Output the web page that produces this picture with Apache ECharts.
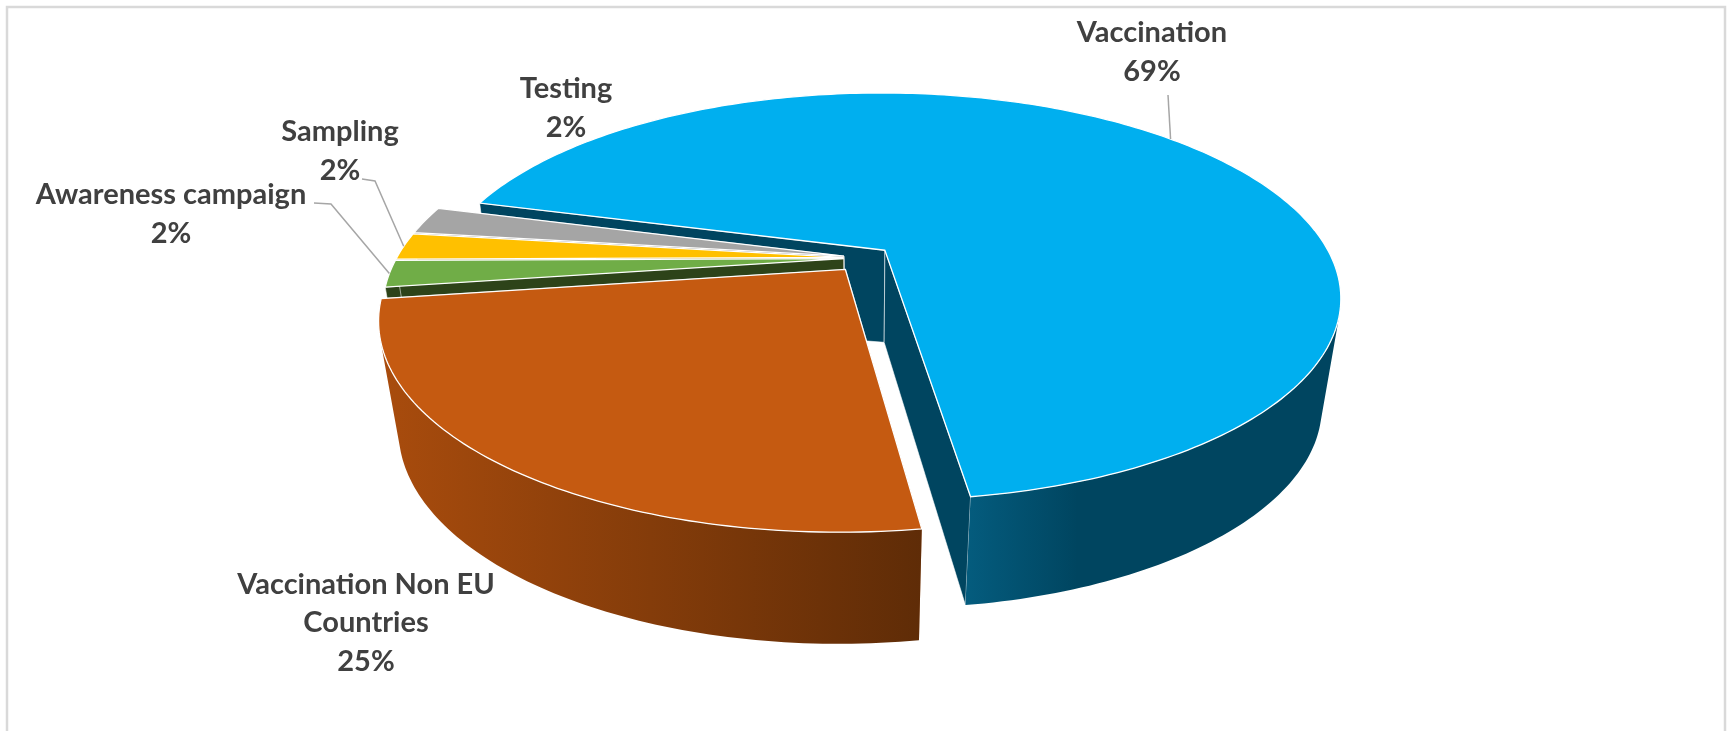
<!DOCTYPE html>
<html>
<head>
<meta charset="utf-8">
<style>
  html, body { margin: 0; padding: 0; background: #fff; }
  #main { width: 1729px; height: 731px; }
</style>
<script src="https://cdn.jsdelivr.net/npm/echarts@6/dist/echarts.min.js"></script>
</head>
<body>
<div id="main"></div>
<script>
  // clockwise from the upper left edge of the big slice
  var categories = ['Vaccination', 'Vaccination Non EU\nCountries', 'Awareness campaign', 'Sampling', 'Testing']
  var values = [68.6, 25, 2.1, 2.1, 2.2]
  var topColors = ['#00AFEF', '#C55A11', '#70AD47', '#FFC000', '#A5A5A5']
  var wallColors = [['#045C7E', '#004560'], ['#A94C0D', '#5F2C07'], ['#2D4319', '#2D4319'], ['#997300', '#997300'], ['#636363', '#636363']]
  var cutColors = ['#004560', '#A94C0D', '#2D4319', '#997300', '#636363']
  var wallGradientEnd = [0.3, 1, 1, 1, 1]
  // how far each slice is pulled out
  var explodes = [0.06, 0.072, 0.048, 0.048, 0.048]
  // where the text sits, leader elbow points if any
  var labelPos = [[1152, 52], [366, 623], [171, 214], [340, 151], [566, 108]]
  var leaders = [[[1168, 95]], null, [[314, 203], [331, 204]], [[362, 179], [375, 181]], null]
  // back to front
  var paintOrder = [0, 4, 3, 2, 1]

  // projection of the tilted pie
  var cx = 865, cy = 258, scaleX = 447, scaleY = 196.5, persp = 0.229
  var depthY = 92, depthRim = 0.19, depthPersp = 0.04
  var startAngle = 195
  // part of the rim that faces the viewer, angles keep counting past 360
  var wallFrom = 378, wallTo = 522

  var total = values.reduce(function (a, b) { return a + b }, 0)
  var rad = Math.PI / 180
  var slices = []
  var acc = startAngle
  values.forEach(function (v, i) {
    var span = v / total * 360
    slices.push({start: acc, end: acc + span, mid: acc + span / 2, explode: explodes[i]})
    acc += span
  })

  function project(X, Y, h) {
    var w = 1 - persp * Y
    var depth = depthY * (1 + depthRim * (X * X + Y * Y)) * h
    return [cx + scaleX * X / (w + depthPersp * h), cy + scaleY * Y / w + depth]
  }
  function apex(s, h) {
    return project(s.explode * Math.cos(s.mid * rad), s.explode * Math.sin(s.mid * rad), h)
  }
  function rim(s, t, h) {
    return project(s.explode * Math.cos(s.mid * rad) + Math.cos(t * rad),
      s.explode * Math.sin(s.mid * rad) + Math.sin(t * rad), h)
  }
  function arc(s, from, to, h) {
    var pts = []
    var n = Math.max(2, Math.ceil(to - from))
    for (var i = 0; i <= n; i++) {
      pts.push(rim(s, from + (to - from) * i / n, h))
    }
    return pts
  }

  function renderSlice(params, api) {
    var i = api.value(0)
    var s = slices[i]
    var children = []
    var rank = paintOrder.indexOf(i) * 10

    // the two cut faces
    ;[s.start, s.end].forEach(function (t) {
      children.push({
        type: 'polygon',
        z2: rank,
        shape: {points: [apex(s, 0), rim(s, t, 0), rim(s, t, 1), apex(s, 1)]},
        style: {fill: cutColors[i], stroke: 'rgba(255,255,255,0.55)', lineWidth: 1}
      })
    })

    // outer wall
    var from = Math.max(s.start, wallFrom)
    var to = Math.min(s.end, wallTo)
    if (from < to) {
      var upper = arc(s, from, to, 0)
      var lower = arc(s, from, to, 1).reverse()
      children.push({
        type: 'polygon',
        z2: rank + 1,
        shape: {points: upper.concat(lower)},
        style: {
          fill: new echarts.graphic.LinearGradient(0, 0, wallGradientEnd[i], 0, [
            {offset: 0, color: wallColors[i][0]},
            {offset: 1, color: wallColors[i][1]}
          ]),
          stroke: null
        }
      })
    }

    // top face
    children.push({
      type: 'polygon',
      z2: rank + 2,
      shape: {points: [apex(s, 0)].concat(arc(s, s.start, s.end, 0))},
      style: {fill: topColors[i], stroke: '#fff', lineWidth: 1.3}
    })

    // label
    children.push({
      type: 'text',
      z2: 100,
      style: {
        x: labelPos[i][0],
        y: labelPos[i][1],
        text: categories[i] + '\n' + Math.round(values[i]) + '%',
        align: 'center',
        verticalAlign: 'middle',
        font: 'bold 29px Lato',
        lineHeight: 38.5,
        fill: '#404040'
      }
    })

    // leader line
    if (leaders[i]) {
      children.push({
        type: 'polyline',
        z2: 99,
        shape: {points: leaders[i].concat([rim(s, s.mid, 0)])},
        style: {stroke: '#A6A6A6', lineWidth: 1.5, fill: null}
      })
    }
    return {type: 'group', children: children}
  }

  var chart = echarts.init(document.getElementById('main'))
  chart.setOption({
    backgroundColor: '#ffffff',
    animation: false,
    graphic: [{
      type: 'rect',
      silent: true,
      shape: {x: 7, y: 7, width: 1718, height: 760},
      style: {fill: null, stroke: '#D9D9D9', lineWidth: 2.5}
    }],
    series: [{
      type: 'custom',
      coordinateSystem: 'none',
      renderItem: renderSlice,
      data: paintOrder.map(function (i) { return [i, values[i]] })
    }]
  })
</script>
</body>
</html>
